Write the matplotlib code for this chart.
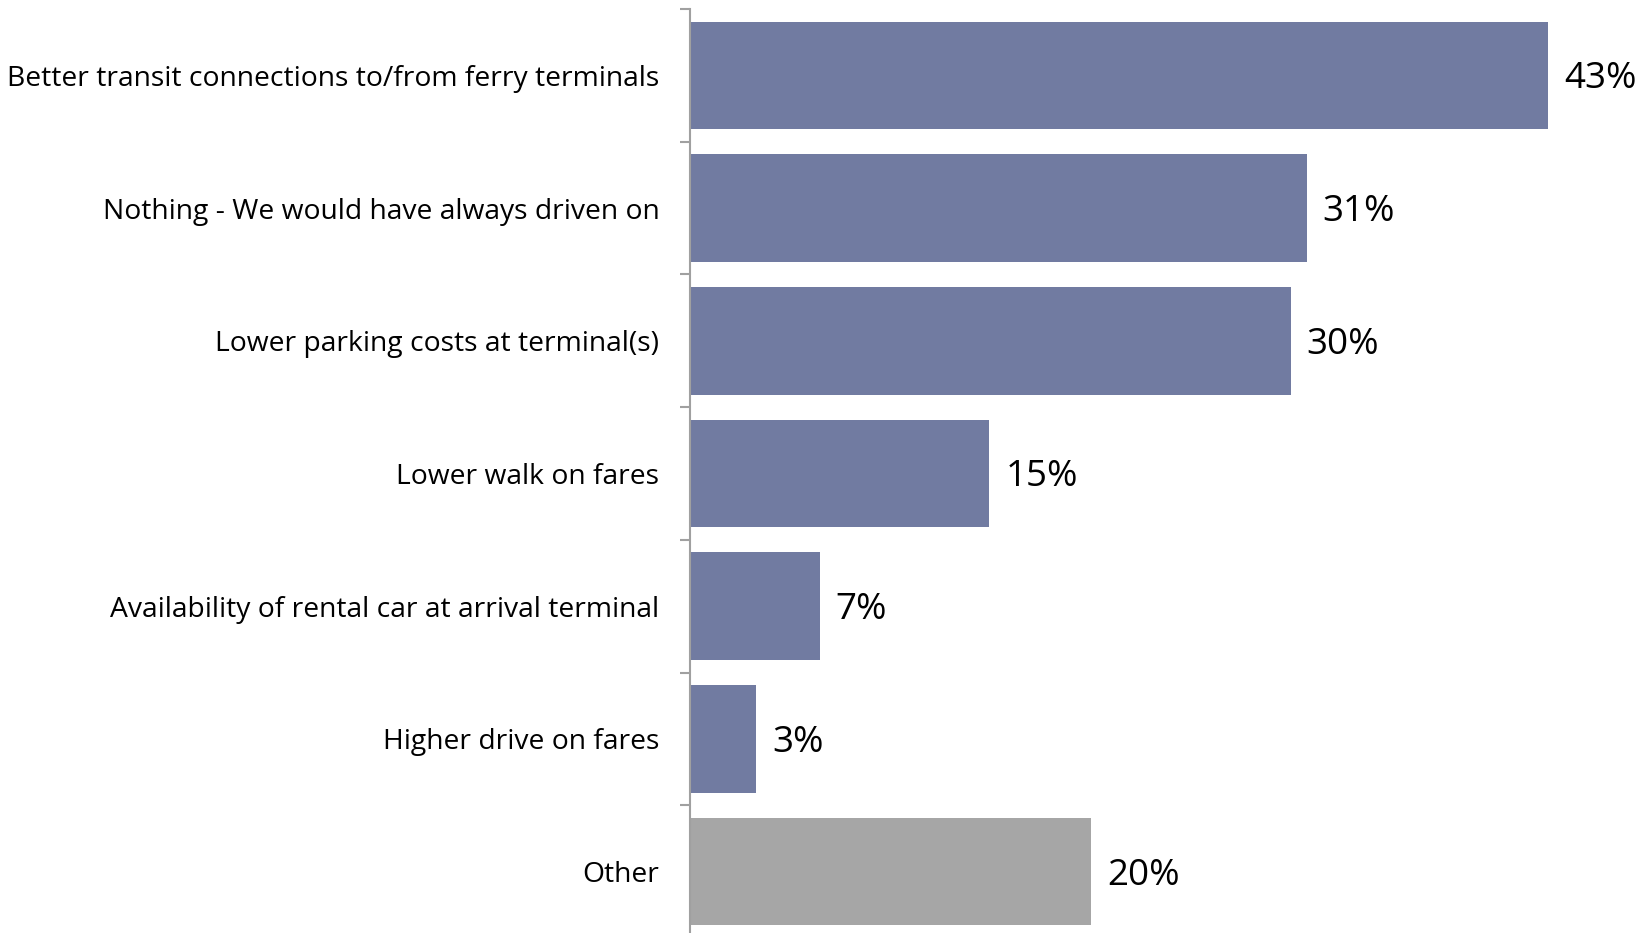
import matplotlib.pyplot as plt
import matplotlib
matplotlib.rcParams['font.family'] = ['Open Sans', 'DejaVu Sans']

categories = ['Better transit connections to/from ferry terminals',
              'Nothing - We would have always driven on',
              'Lower parking costs at terminal(s)',
              'Lower walk on fares',
              'Availability of rental car at arrival terminal',
              'Higher drive on fares',
              'Other']
values = [43, 30.9, 30.1, 15, 6.5, 3.3, 20.1]
value_labels = ['43%', '31%', '30%', '15%', '7%', '3%', '20%']
colors = ['#717BA1'] * 6 + ['#A6A6A6']

fig = plt.figure(figsize=(16.5, 9.33), dpi=100)
ax = fig.add_axes([690/1650, -5/933, 958/1650, 929/933])

pos = list(range(len(categories)))
ax.barh(pos, values, height=0.81, color=colors)
ax.set_ylim(len(categories) - 0.5, -0.5)
ax.set_xlim(0, 48)

for p, v, lab in zip(pos, values, value_labels):
    ax.text(v + 0.8, p + 0.03, lab, va='center', ha='left', fontsize=26.5)

# ticks between categories, labels at centres
ax.set_yticks([p - 0.5 for p in pos] + [len(categories) - 0.5])
ax.set_yticklabels([])
ax.set_yticks(pos, minor=True)
ax.set_yticklabels(categories, minor=True, fontsize=20.3)
ax.tick_params(axis='y', which='major', length=7, color='#A0A0A0', width=1.5)
ax.tick_params(axis='y', which='minor', length=0, pad=22)
ax.set_xticks([])
for s in ['top', 'right', 'bottom']:
    ax.spines[s].set_visible(False)
ax.spines['left'].set_color('#A0A0A0')
ax.spines['left'].set_linewidth(1.5)

plt.savefig('out.png', dpi=100)
